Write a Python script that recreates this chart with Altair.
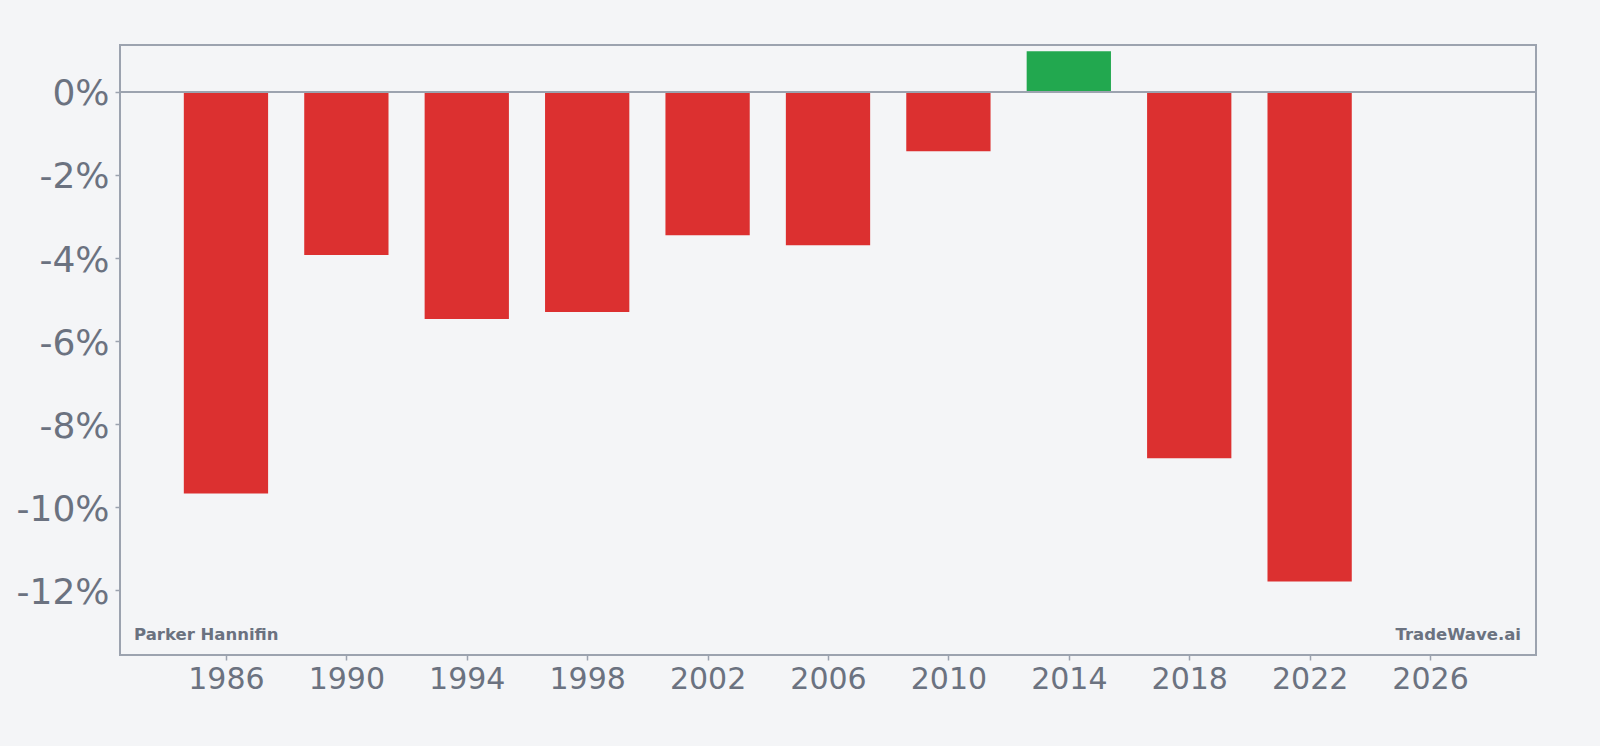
import altair as alt
import pandas as pd

years = [1986, 1990, 1994, 1998, 2002, 2006, 2010, 2014, 2018, 2022]
values = [-9.67, -3.93, -5.47, -5.30, -3.45, -3.69, -1.43, 0.98, -8.82, -11.79]
y_ticks = [-12, -10, -8, -6, -4, -2, 0]
x_ticks = [1986, 1990, 1994, 1998, 2002, 2006, 2010, 2014, 2018, 2022, 2026]
company = "Parker Hannifin"
brand = "TradeWave.ai"

RED = "#dc3030"
GREEN = "#22a84f"
GRAY = "#9ca3af"
TEXT = "#6b7280"
BG = "#f4f5f7"

df = pd.DataFrame({"year": years, "value": values})
df["x0"] = df["year"] - 1.4
df["x1"] = df["year"] + 1.4
df["color"] = [GREEN if v >= 0 else RED for v in values]

xscale = alt.Scale(domain=[1982.48, 2029.52], nice=False, zero=False)
yscale = alt.Scale(domain=[-13.56, 1.13], nice=False, zero=False)

bars = alt.Chart(df).mark_rect().encode(
    x=alt.X("x0:Q", scale=xscale,
            axis=alt.Axis(values=x_ticks, format="d", title=None, grid=False,
                          domain=False, tickColor=GRAY, tickSize=5, tickWidth=1.5,
                          labelFontSize=30, labelColor=TEXT, labelPadding=4,
                          labelFont="DejaVu Sans")),
    x2="x1:Q",
    y=alt.Y("value:Q", scale=yscale,
            axis=alt.Axis(values=y_ticks, title=None, grid=False, domain=False,
                          tickColor=GRAY, tickSize=5, tickWidth=1.5,
                          labelFontSize=36, labelColor=TEXT, labelPadding=6,
                          labelOffset=2,
                          labelFont="DejaVu Sans",
                          labelExpr="datum.value + '%'")),
    y2=alt.datum(0),
    color=alt.Color("color:N", scale=None),
)

zero = alt.Chart(pd.DataFrame({"z": [0]})).mark_rule(color=GRAY, strokeWidth=2).encode(
    y=alt.Y("z:Q", scale=yscale)
)

left_txt = alt.Chart(pd.DataFrame({"t": [company]})).mark_text(
    align="left", baseline="alphabetic", fontSize=16.5, fontWeight="bold",
    color=TEXT, font="DejaVu Sans"
).encode(text="t:N", x=alt.value(14), y=alt.value(595))

right_txt = alt.Chart(pd.DataFrame({"t": [brand]})).mark_text(
    align="right", baseline="alphabetic", fontSize=16.5, fontWeight="bold",
    color=TEXT, font="DejaVu Sans"
).encode(text="t:N", x=alt.value(1401), y=alt.value(595))

chart = alt.layer(bars, zero, left_txt, right_txt).properties(
    width=1416, height=610,
    padding={"left": 120, "top": 45, "right": 64, "bottom": 91},
    autosize=alt.AutoSizeParams(type="none"),
    background=BG,
).configure_view(stroke=GRAY, strokeWidth=2)

chart.save("out.html", embed_options={"renderer": "svg", "actions": False})
